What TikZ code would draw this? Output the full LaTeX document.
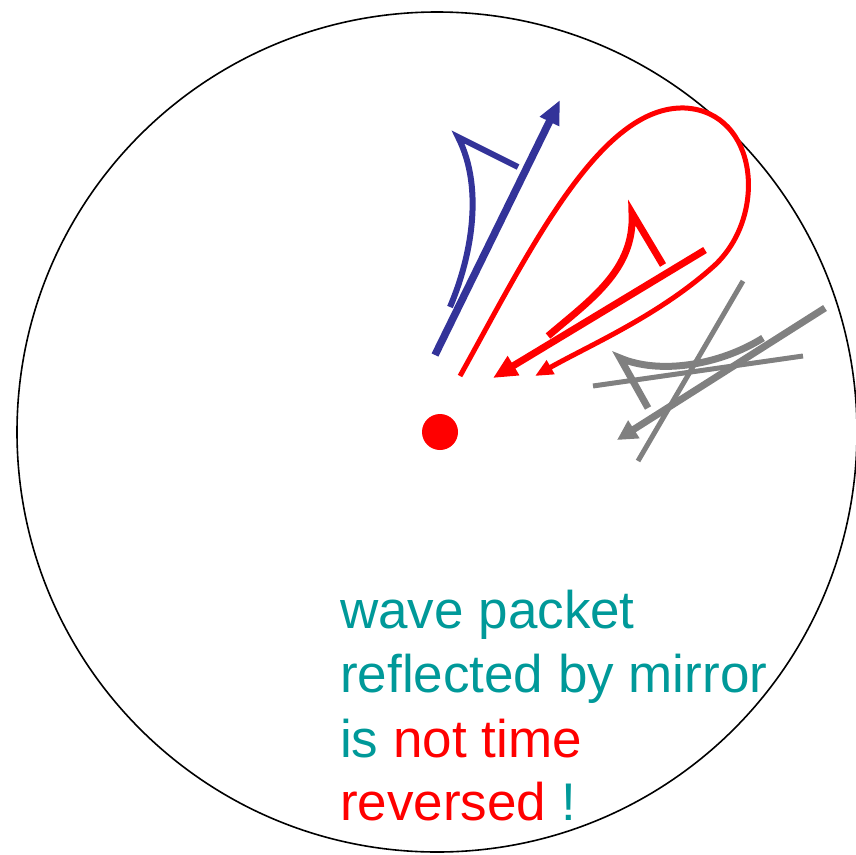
\documentclass[tikz,border=0pt]{standalone}
\usepackage{fontspec}
\setmainfont{Liberation Sans}
\usetikzlibrary{arrows.meta}
\definecolor{pblue}{RGB}{51,51,153}
\definecolor{pteal}{RGB}{0,153,153}
\definecolor{pgray}{RGB}{128,128,128}
\begin{document}
\begin{tikzpicture}[x=1pt,y=-1pt,
  txt/.style={anchor=base west,inner sep=0pt,font=\fontsize{53}{64}\selectfont,text=pteal},
  bluepath/.style={draw=pblue,line width=7.5pt},
  redthick/.style={draw=red,line width=7pt},
  redthin/.style={draw=red,line width=5pt},
  graypath/.style={draw=pgray,line width=5pt},
  graythick/.style={draw=pgray,line width=7pt}]
\useasboundingbox (0,0) rectangle (856,854);
% mirror circle
\draw[line width=1.6pt] (437,432) circle (420);
% red dot
\fill[red] (440,432) circle (18);
% blue packet
\coordinate (b0) at (435,355);
\coordinate (b1) at (560,100);
\draw[bluepath,-{Triangle[length=24pt,width=20pt]}] (b0) -- (b1);
\draw[draw=pblue,line width=6pt] (450,307) .. controls (470,260) and (485,190) .. (458,137) -- (518,167);
% red thin loop
\coordinate (l0) at (460,376);
\coordinate (l1) at (535,376);
\draw[redthin,-{Triangle[length=18pt,width=15pt]}] (l0) .. controls (530,250) and (600,105) .. (685,108) .. controls (758,112) and (768,215) .. (715,265) .. controls (660,315) and (590,345) .. (l1);
% red thick packet
\draw[draw=red,line width=7pt] (548,336) .. controls (590,300) and (635,270) .. (632,213) -- (663,265);
\coordinate (r0) at (705,250);
\coordinate (r1) at (493,378);
\draw[redthick,-{Triangle[length=24pt,width=21pt]}] (r0) -- (r1);
% gray packet
\coordinate (g1a) at (743,281);
\coordinate (g1b) at (638,461);
\draw[graypath] (g1a) -- (g1b);
\coordinate (g2a) at (593,386);
\coordinate (g2b) at (803,356);
\draw[graypath] (g2a) -- (g2b);
\draw[graythick] (763,338) .. controls (720,365) and (660,375) .. (620,358) -- (648,408);
\coordinate (g3a) at (825,308);
\coordinate (g3b) at (617,440);
\draw[graythick,-{Triangle[length=20pt,width=20pt]}] (g3a) -- (g3b);
% text
\node[txt] (t1) at (340,628) {wave packet};
\node[txt] (t2) at (340,692) {reflected by mirror};
\node[txt] (t3) at (340,757) {is \textcolor{red}{not time}};
\node[txt,text=red] (t4) at (340,820) {reversed \textcolor{pteal}{!}};
\end{tikzpicture}
\end{document}
